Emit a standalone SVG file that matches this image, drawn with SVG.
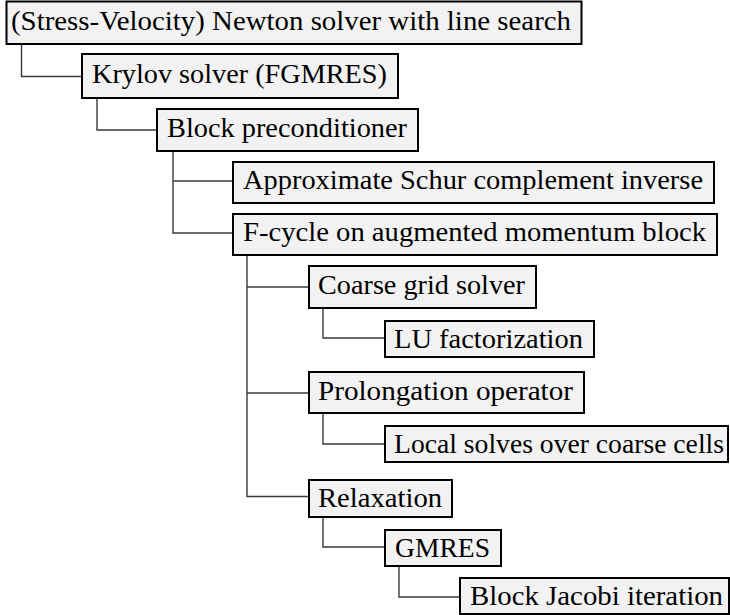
<svg xmlns="http://www.w3.org/2000/svg" width="730" height="615" viewBox="0 0 730 615">
<style>
.box{fill:#f2f2f2;stroke:#000;stroke-width:2}
.lbl{font-family:'Liberation Serif','Times New Roman',Times,serif;font-size:28px;fill:#000}
.conn{fill:none;stroke:#3a3a3a;stroke-width:1.4}
</style>
<rect width="730" height="615" fill="#fff"/>
<g id="connectors">
<path class="conn" d="M21.5 44 V76.5 H82"/>
<path class="conn" d="M97 98 V130 H157"/>
<path class="conn" d="M173 151 V181 H233 M173 181 V233 H233"/>
<path class="conn" d="M247 255 V496.5 H309 M247 287 H309 M247 393 H309"/>
<path class="conn" d="M323 308 V338 H385"/>
<path class="conn" d="M323 413 V444 H385"/>
<path class="conn" d="M323 517 V547 H385"/>
<path class="conn" d="M399 566 V597 H460"/>
</g>
<g id="n1"><rect class="box" x="6.5" y="1.5" width="575" height="42.5"/><text class="lbl" font-family="Liberation Serif" x="11" y="30" textLength="560" lengthAdjust="spacingAndGlyphs">(Stress-Velocity) Newton solver with line search</text></g>
<g id="n2"><rect class="box" x="82" y="54" width="316" height="44"/><text class="lbl" font-family="Liberation Serif" x="92" y="83" textLength="295" lengthAdjust="spacingAndGlyphs">Krylov solver (FGMRES)</text></g>
<g id="n3"><rect class="box" x="157" y="109" width="261" height="42"/><text class="lbl" font-family="Liberation Serif" x="167" y="137" textLength="240" lengthAdjust="spacingAndGlyphs">Block preconditioner</text></g>
<g id="n4"><rect class="box" x="233" y="162" width="481" height="41"/><text class="lbl" font-family="Liberation Serif" x="243" y="189" textLength="460" lengthAdjust="spacingAndGlyphs">Approximate Schur complement inverse</text></g>
<g id="n5"><rect class="box" x="233" y="214" width="484" height="41"/><text class="lbl" font-family="Liberation Serif" x="243" y="241" textLength="463" lengthAdjust="spacingAndGlyphs">F-cycle on augmented momentum block</text></g>
<g id="n6"><rect class="box" x="309" y="266" width="227" height="42"/><text class="lbl" font-family="Liberation Serif" x="318" y="294" textLength="207" lengthAdjust="spacingAndGlyphs">Coarse grid solver</text></g>
<g id="n7"><rect class="box" x="385" y="321" width="209" height="36"/><text class="lbl" font-family="Liberation Serif" x="394" y="348" textLength="189" lengthAdjust="spacingAndGlyphs">LU factorization</text></g>
<g id="n8"><rect class="box" x="309" y="372" width="275" height="41"/><text class="lbl" font-family="Liberation Serif" x="318" y="400" textLength="255" lengthAdjust="spacingAndGlyphs">Prolongation operator</text></g>
<g id="n9"><rect class="box" x="385" y="426" width="343" height="36"/><text class="lbl" font-family="Liberation Serif" x="394" y="453" textLength="330" lengthAdjust="spacingAndGlyphs">Local solves over coarse cells</text></g>
<g id="n10"><rect class="box" x="309" y="480" width="143" height="37"/><text class="lbl" font-family="Liberation Serif" x="318" y="507" textLength="124" lengthAdjust="spacingAndGlyphs">Relaxation</text></g>
<g id="n11"><rect class="box" x="385" y="530" width="116" height="36"/><text class="lbl" font-family="Liberation Serif" x="395" y="557" textLength="95" lengthAdjust="spacingAndGlyphs">GMRES</text></g>
<g id="n12"><rect class="box" x="460" y="578" width="269" height="36"/><text class="lbl" font-family="Liberation Serif" x="470" y="605" textLength="253" lengthAdjust="spacingAndGlyphs">Block Jacobi iteration</text></g>
</svg>
